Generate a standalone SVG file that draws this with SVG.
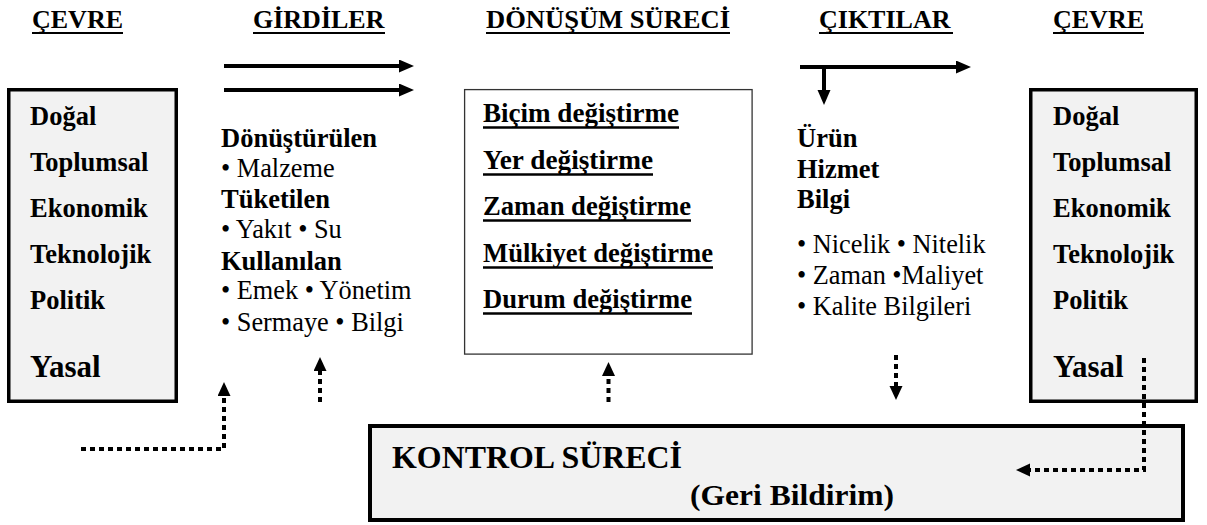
<svg xmlns="http://www.w3.org/2000/svg" width="1207" height="525" viewBox="0 0 1207 525" font-family="'Liberation Serif', 'DejaVu Serif', serif">
  <style>
    text { font-family: "Liberation Serif", "DejaVu Serif", serif; fill: #000; }
    .b { font-weight: bold; font-size: 26.5px; }
    .r { font-size: 26.3px; }
    .hd { font-weight: bold; font-size: 26px; }
    .big { font-weight: bold; font-size: 31px; }
    .ul { stroke: #000; stroke-width: 2; }
    .ul2 { stroke: #000; stroke-width: 2.6; }
    .env { fill: #f2f2f2; stroke: #000; stroke-width: 3.5; }
    .solid { fill: none; stroke: #000; stroke-width: 4; }
    .dot { fill: none; stroke: #000; stroke-width: 4; stroke-dasharray: 5 4; }
  </style>
  <defs>
    <marker id="headSolid" markerUnits="userSpaceOnUse" markerWidth="16" markerHeight="14" refX="1" refY="6.5" orient="auto">
      <path d="M0,0 L15,6.5 L0,13 z" fill="#000"/>
    </marker>
    <marker id="headDot" markerUnits="userSpaceOnUse" markerWidth="15" markerHeight="14" refX="1" refY="6.5" orient="auto">
      <path d="M0,0 L14,6.5 L0,13 z" fill="#000"/>
    </marker>
  </defs>

  <!-- column headings -->
  <g id="headings">
    <text class="hd" x="32" y="28">ÇEVRE</text>
    <line class="ul" x1="32" y1="33" x2="123" y2="33"/>
    <text class="hd" x="253" y="28">GİRDİLER</text>
    <line class="ul" x1="253" y1="33" x2="385" y2="33"/>
    <text class="hd" x="486" y="28" textLength="244" lengthAdjust="spacingAndGlyphs">DÖNÜŞÜM SÜRECİ</text>
    <line class="ul" x1="486" y1="33" x2="730" y2="33"/>
    <text class="hd" x="819" y="28">ÇIKTILAR</text>
    <line class="ul" x1="819" y1="33" x2="953" y2="33"/>
    <text class="hd" x="1053" y="28">ÇEVRE</text>
    <line class="ul" x1="1053" y1="33" x2="1144" y2="33"/>
  </g>

  <!-- environment (left) -->
  <g id="env-left">
    <rect class="env" x="8.75" y="89.75" width="167.5" height="311.5"/>
    <text class="b" x="30" y="125">Doğal</text>
    <text class="b" x="30" y="171">Toplumsal</text>
    <text class="b" x="30" y="217">Ekonomik</text>
    <text class="b" x="30" y="263">Teknolojik</text>
    <text class="b" x="30" y="309">Politik</text>
    <text class="big" x="30" y="377">Yasal</text>
  </g>

  <!-- inputs -->
  <g id="inputs">
    <text class="b" x="221" y="147">Dönüştürülen</text>
    <text class="r" x="221" y="177">• Malzeme</text>
    <text class="b" x="221" y="208">Tüketilen</text>
    <text class="r" x="221" y="238">• Yakıt • Su</text>
    <text class="b" x="221" y="270">Kullanılan</text>
    <text class="r" x="221" y="299">• Emek • Yönetim</text>
    <text class="r" x="221" y="331">• Sermaye • Bilgi</text>
  </g>

  <!-- transformation process -->
  <g id="transformation">
    <rect x="464.6" y="89.6" width="287.5" height="264.5" fill="#fff" stroke="#333" stroke-width="1.3"/>
    <text class="b" x="483" y="122" textLength="196" lengthAdjust="spacingAndGlyphs">Biçim değiştirme</text>
    <line class="ul2" x1="483" y1="127.5" x2="679" y2="127.5"/>
    <text class="b" x="483" y="169" textLength="170" lengthAdjust="spacingAndGlyphs">Yer değiştirme</text>
    <line class="ul2" x1="483" y1="174.5" x2="653" y2="174.5"/>
    <text class="b" x="483" y="215" textLength="208" lengthAdjust="spacingAndGlyphs">Zaman değiştirme</text>
    <line class="ul2" x1="483" y1="220.5" x2="691" y2="220.5"/>
    <text class="b" x="483" y="262" textLength="230" lengthAdjust="spacingAndGlyphs">Mülkiyet değiştirme</text>
    <line class="ul2" x1="483" y1="267.5" x2="713" y2="267.5"/>
    <text class="b" x="483" y="308" textLength="209" lengthAdjust="spacingAndGlyphs">Durum değiştirme</text>
    <line class="ul2" x1="483" y1="313.5" x2="692" y2="313.5"/>
  </g>

  <!-- outputs -->
  <g id="outputs">
    <text class="b" x="797" y="147">Ürün</text>
    <text class="b" x="797" y="178">Hizmet</text>
    <text class="b" x="797" y="208">Bilgi</text>
    <text class="r" x="797" y="253">• Nicelik • Nitelik</text>
    <text class="r" x="797" y="284">• Zaman •Maliyet</text>
    <text class="r" x="797" y="315">• Kalite Bilgileri</text>
  </g>

  <!-- environment (right) -->
  <g id="env-right">
    <rect class="env" x="1030.75" y="89.75" width="165.5" height="311.5"/>
    <text class="b" x="1053" y="125">Doğal</text>
    <text class="b" x="1053" y="171">Toplumsal</text>
    <text class="b" x="1053" y="217">Ekonomik</text>
    <text class="b" x="1053" y="263">Teknolojik</text>
    <text class="b" x="1053" y="309">Politik</text>
    <text class="big" x="1053" y="377">Yasal</text>
  </g>

  <!-- control process -->
  <g id="control">
    <rect x="370" y="426" width="813" height="94" fill="#f2f2f2" stroke="#000" stroke-width="4"/>
    <text x="392" y="468" font-weight="bold" font-size="31" textLength="290" lengthAdjust="spacingAndGlyphs">KONTROL SÜRECİ</text>
    <text x="690" y="505" font-weight="bold" font-size="30" textLength="204" lengthAdjust="spacingAndGlyphs">(Geri Bildirim)</text>
  </g>

  <!-- connectors -->
  <g id="connectors">
    <line class="solid" x1="224" y1="66" x2="400" y2="66" marker-end="url(#headSolid)"/>
    <line class="solid" x1="224" y1="90" x2="400" y2="90" marker-end="url(#headSolid)"/>
    <line class="solid" x1="800" y1="67" x2="957" y2="67" marker-end="url(#headSolid)"/>
    <line class="solid" x1="824" y1="65" x2="824" y2="91" marker-end="url(#headSolid)"/>

    <polyline class="dot" points="81,449 224,449 224,395" marker-end="url(#headDot)"/>
    <line class="dot" x1="320" y1="402" x2="320" y2="370" marker-end="url(#headDot)"/>
    <line class="dot" x1="608.5" y1="402" x2="608.5" y2="375" marker-end="url(#headDot)"/>
    <line class="dot" x1="896" y1="355" x2="896" y2="387" marker-end="url(#headDot)"/>
    <polyline class="dot" points="1144,358 1144,470 1029,470" marker-end="url(#headDot)"/>
  </g>
</svg>
